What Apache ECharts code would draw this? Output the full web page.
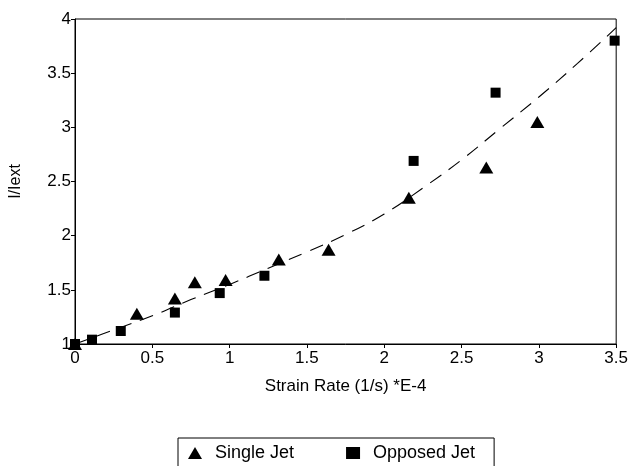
<!DOCTYPE html>
<html>
<head>
<meta charset="utf-8">
<script src="https://cdn.jsdelivr.net/npm/echarts@6/dist/echarts.min.js"></script>
<style>
html,body{margin:0;padding:0;background:#fff;}
#chart{width:631px;height:466px;}
</style>
</head>
<body>
<div id="chart"></div>
<script>
// Data
const singleJetX = [0, 0.40, 0.646, 0.775, 0.974, 1.318, 1.64, 2.159, 2.66, 2.99];
const singleJetY = [1.0, 1.28, 1.42, 1.57, 1.59, 1.78, 1.87, 2.35, 2.63, 3.05];
const opposedJetX = [0, 0.11, 0.296, 0.646, 0.936, 1.225, 2.19, 2.72, 3.49];
const opposedJetY = [1.0, 1.04, 1.12, 1.29, 1.47, 1.63, 2.69, 3.32, 3.80];
// dashed fit curve
const fitX = [0, 0.25, 0.5, 0.75, 1.0, 1.25, 1.5, 1.75, 2.0, 2.25, 2.5, 2.75, 3.0, 3.25, 3.5];
const fitY = [1.0, 1.13, 1.26, 1.41, 1.55, 1.70, 1.85, 2.01, 2.20, 2.44, 2.70, 2.99, 3.28, 3.59, 3.92];
const xTicks = { min: 0, max: 3.5, step: 0.5 };
const yTicks = { min: 1, max: 4, step: 0.5 };
const xTitle = 'Strain Rate (1/s) *E-4';
const yTitle = 'I/Iext';
const seriesNames = ['Single Jet', 'Opposed Jet'];

const zip = (a, b) => a.map((v, i) => [v, b[i]]);
const FONT = 'Liberation Sans, Arial, sans-serif';
const INK = '#000';

const chart = echarts.init(document.getElementById('chart'));
chart.setOption({
  animation: false,
  backgroundColor: '#fff',
  grid: { left: 73, right: 14, top: 19, bottom: 122, show: true, borderColor: INK, borderWidth: 1 },
  xAxis: {
    type: 'value', min: xTicks.min, max: xTicks.max, interval: xTicks.step,
    name: xTitle, nameLocation: 'middle', nameGap: 34,
    nameTextStyle: { fontFamily: FONT, fontSize: 17, color: INK },
    axisLine: { lineStyle: { color: INK, width: 1 } },
    axisTick: { show: true, length: 4, lineStyle: { color: INK } },
    axisLabel: { fontFamily: FONT, fontSize: 17, color: INK, margin: 6 },
    splitLine: { show: false }
  },
  yAxis: {
    type: 'value', min: yTicks.min, max: yTicks.max, interval: yTicks.step,
    name: yTitle, nameLocation: 'middle', nameGap: 51, nameRotate: 90,
    nameTextStyle: { fontFamily: FONT, fontSize: 16, color: INK },
    axisLine: { show: true, lineStyle: { color: INK, width: 1 } },
    axisTick: { show: true, length: 4, lineStyle: { color: INK } },
    axisLabel: { fontFamily: FONT, fontSize: 17, color: INK, margin: 4 },
    splitLine: { show: false }
  },
  legend: {
    data: [
      { name: seriesNames[0], icon: 'triangle' },
      { name: seriesNames[1], icon: 'rect' }
    ],
    left: 178, top: 438,
    borderColor: INK, borderWidth: 1, borderRadius: 0,
    padding: [6, 19, 20, 10],
    itemWidth: 14, itemHeight: 12, itemGap: 52,
    itemStyle: { opacity: 1 },
    textStyle: { fontFamily: FONT, fontSize: 18, color: INK, padding: [0, 0, 0, 8] }
  },
  series: [
    {
      name: 'fit', type: 'line', data: zip(fitX, fitY), smooth: 0.4,
      showSymbol: false, silent: true,
      lineStyle: { color: INK, width: 1.1, type: [14, 9] },
      z: 1
    },
    {
      name: seriesNames[0], type: 'scatter', data: zip(singleJetX, singleJetY),
      symbol: 'triangle', symbolSize: [14, 12],
      itemStyle: { color: INK, opacity: 1 }, z: 3
    },
    {
      name: seriesNames[1], type: 'scatter', data: zip(opposedJetX, opposedJetY),
      symbol: 'rect', symbolSize: 10,
      itemStyle: { color: INK, opacity: 1 }, z: 3
    }
  ]
});
</script>
</body>
</html>
